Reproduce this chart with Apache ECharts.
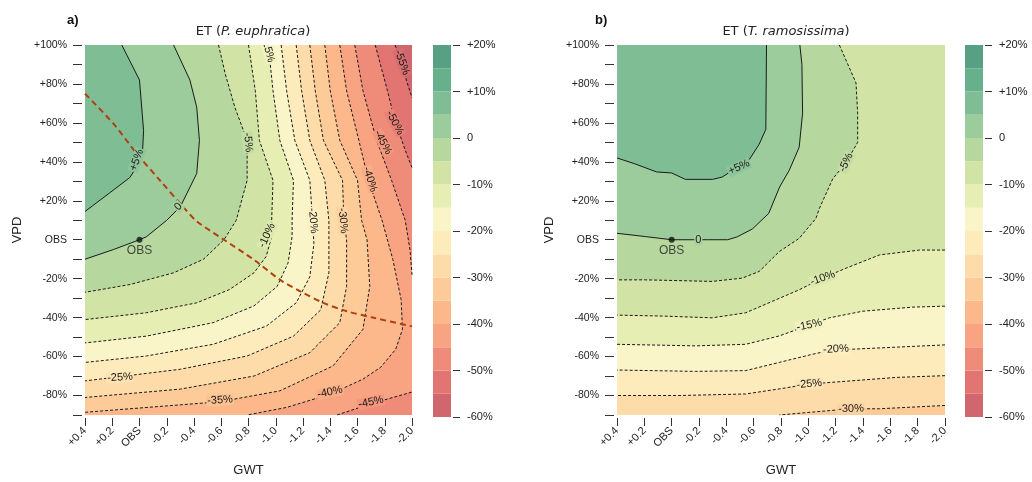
<!DOCTYPE html>
<html>
<head>
<meta charset="utf-8">
<script src="https://cdn.jsdelivr.net/npm/echarts@6/dist/echarts.min.js"></script>
<style>
  html, body { margin: 0; background: #fff; }
  #chart { width: 1032px; height: 482px; }
</style>
</head>
<body>
<div id="chart"></div>
<script>
// tick labels
const gwtTicks = ['+0.4', '+0.2', 'OBS', '-0.2', '-0.4', '-0.6', '-0.8', '-1.0', '-1.2', '-1.4', '-1.6', '-1.8', '-2.0']
const vpdTicks = ['-80%', '-60%', '-40%', '-20%', 'OBS', '+20%', '+40%', '+60%', '+80%', '+100%']
const cbarTicks = ['-60%', '-50%', '-40%', '-30%', '-20%', '-10%', '0', '+10%', '+20%']

// colour bands, 5% each, from -60% up to +20%
const bandLevels = [-60, -55, -50, -45, -40, -35, -30, -25, -20, -15, -10, -5, 0, 5, 10, 15]
const bandColors = ['#d0676f', '#e27572', '#ef8b79', '#f8a382', '#fcb88b', '#fdcb98', '#fddca9', '#feebbc',
  '#faf5c9', '#e7eeb3', '#d1e3a5', '#b6d79e', '#9ccb9c', '#7fbd95', '#67b08c', '#58a083']

// panel a) P. euphratica, contour lines as [GWT, VPD%]
const aP5 = [[0.13, 100], [0.0, 82], [-0.03, 56], [-0.02, 42], [0.07, 32], [0.22, 24], [0.4, 14.5]]
const a0 = [[-0.25, 100], [-0.37, 82], [-0.42, 68], [-0.44, 51], [-0.42, 34], [-0.3, 17], [-0.2, 10], [-0.05, 1.5], [0, 0], [0.19, -5], [0.4, -10]]
const aM5 = [[-0.58, 100], [-0.63, 85], [-0.7, 68], [-0.79, 51], [-0.79, 30.5], [-0.71, 10], [-0.62, 0], [-0.47, -10], [-0.25, -17], [0.07, -23], [0.4, -27]]
const aM10 = [[-0.8, 100], [-0.85, 76.5], [-0.88, 51], [-0.98, 30.5], [-0.97, 10], [-0.97, 1.6], [-0.93, -8.6], [-0.84, -17], [-0.66, -25.6], [-0.42, -32.4], [-0.05, -37.5], [0.4, -41]]
const aM15 = [[-0.945, 100], [-0.98, 76.5], [-1.03, 51], [-1.13, 30.5], [-1.12, 10], [-1.12, 1.6], [-1.09, -12], [-1.01, -24], [-0.84, -34], [-0.54, -42.6], [-0.05, -49.5], [0.4, -53]]
const aM20 = [[-1.04, 100], [-1.08, 76.5], [-1.14, 51], [-1.25, 30.5], [-1.27, 10], [-1.28, -2], [-1.25, -19], [-1.15, -32.4], [-0.93, -44.4], [-0.54, -53.7], [-0.05, -59.7], [0.4, -63]]
const aM25 = [[-1.15, 100], [-1.19, 76.5], [-1.25, 51], [-1.36, 30.5], [-1.39, 10], [-1.39, 1.6], [-1.39, -17], [-1.33, -36], [-1.13, -49.5], [-0.79, -59.7], [-0.3, -66.5], [0.4, -72.5]]
const aM30 = [[-1.25, 100], [-1.29, 76.5], [-1.35, 51], [-1.49, 30.5], [-1.5, 10], [-1.52, 0], [-1.52, -24], [-1.47, -42.6], [-1.25, -58], [-0.84, -70], [-0.3, -76.7], [0.4, -81]]
const aM35 = [[-1.36, 100], [-1.4, 76.5], [-1.47, 51], [-1.6, 30.5], [-1.63, 10], [-1.67, 0], [-1.69, -24], [-1.64, -46], [-1.42, -64.8], [-1.03, -77.6], [-0.59, -83.2], [0.4, -88.6]]
const aM40 = [[-1.47, 100], [-1.52, 76.5], [-1.61, 51], [-1.68, 30.5], [-1.78, 10], [-1.86, -10.3], [-1.92, -30.7], [-1.93, -46], [-1.88, -56.3], [-1.77, -65.5], [-1.64, -71.6], [-1.4, -79.3], [-1.08, -86.1], [-0.79, -90]]
const aM45top = [[-1.58, 100], [-1.64, 76.5], [-1.74, 51], [-1.85, 30.5], [-1.95, 10], [-1.985, -5], [-2.0, -18]]
const aM45bottom = [[-1.45, -90], [-1.69, -84.4], [-2.0, -78.2]]
const aM50 = [[-1.73, 100], [-1.82, 76.5], [-1.875, 61], [-1.95, 46], [-2.0, 37]]
const aM55 = [[-1.875, 100], [-1.92, 92], [-1.96, 81.6], [-2.0, 73]]
// dashed red curve in panel a
const aCurve = [[0.4, 75], [0.19, 59.5], [0.02, 44.2], [-0.15, 30.5], [-0.32, 16.9], [-0.42, 9.5], [-0.62, 0], [-0.84, -10.3],
  [-1.03, -20.5], [-1.18, -26.5], [-1.35, -32.4], [-1.52, -36.7], [-1.72, -40.1], [-2.0, -44.5]]
// contour labels [GWT, VPD, level]
const aLabels = [[0.02, 41, 5], [-0.285, 17, 0], [-0.796, 50, -5], [-0.943, 97.5, -15], [-1.273, 9.8, -20], [-1.493, 9.8, -30],
  [-0.936, 2.2, -10], [-1.927, 91, -55], [-1.875, 60, -50], [-1.787, 50, -45], [-1.692, 31, -40],
  [0.143, -70.7, -25], [-0.591, -82.4, -35], [-1.398, -78.3, -40], [-1.699, -83.4, -45]]
const aLabelAngles = [70, 45, -85, -75, -85, -85, 65, -70, -62, -62, -72, 4, 4, 12, 12]

// panel b) T. ramosissima
const bP5 = [[-0.694, 100], [-0.689, 56.7], [-0.64, 49], [-0.57, 41.4], [-0.37, 32.2], [-0.3, 31], [-0.1, 31], [0.0, 34.3], [0.11, 34.8], [0.27, 39], [0.4, 42]]
const b0 = [[-0.938, 100], [-0.953, 90], [-0.958, 65], [-0.933, 47.5], [-0.86, 35.6], [-0.79, 27.1], [-0.71, 13.5], [-0.59, 5.5], [-0.48, 1.5], [-0.41, 0], [-0.27, 0], [0, 0], [0.19, 1.6], [0.4, 3.3]]
const bM5 = [[-1.227, 100], [-1.349, 80.5], [-1.361, 65], [-1.361, 50], [-1.276, 39.7], [-1.178, 31.2], [-1.08, 15.9], [-1.055, 10.9], [-0.933, 0.7], [-0.787, -6.1], [-0.64, -16.3], [-0.517, -19.7], [-0.297, -21.4], [0.192, -20.6], [0.4, -20.6]]
const bM10 = [[-2.0, -5.3], [-1.814, -5.3], [-1.521, -7.8], [-1.276, -14.6], [-1.105, -19.7], [-0.933, -25.7], [-0.738, -31.6], [-0.542, -37.5], [-0.297, -40.1], [0.07, -39.2], [0.4, -38.7]]
const bM15 = [[-2.0, -34.1], [-1.765, -34.6], [-1.398, -36.7], [-1.154, -40.1], [-1.007, -43.8], [-0.787, -49.4], [-0.542, -53.7], [-0.175, -54.5], [0.4, -53.7]]
const bM20 = [[-2.0, -54], [-1.325, -56.2], [-1.202, -56.2], [-1.031, -58.8], [-0.787, -63], [-0.542, -67.2], [-0.175, -67.6], [0.4, -66.9]]
const bM25 = [[-2.0, -69.8], [-1.643, -70.7], [-1.007, -74.1], [-0.787, -76.6], [-0.542, -79.2], [-0.053, -80], [0.4, -80]]
const bM30 = [[-2.0, -85.1], [-1.521, -86.8], [-1.312, -86.8], [-1.031, -88.5], [-0.787, -90]]
const bLabels = [[-0.493, 37.2, 5], [-0.195, 0, 0], [-1.276, 39.7, -5], [-1.105, -19.7, -10], [-1.007, -43.8, -15],
  [-1.202, -56.2, -20], [-1.007, -74.1, -25], [-1.312, -86.8, -30]]
const bLabelAngles = [25, 0, 65, 20, 12, 3, 5, 2]

const obsPoint = [[0, 0]]

// plot corners
const TL = [0.4, 100], TR = [-2.0, 100], BL = [0.4, -90], BR = [-2.0, -90]
const FONT = '"Liberation Sans", Arial, sans-serif'

function col(level) { return bandColors[bandLevels.indexOf(level)] }
// label box colour: halfway between the two bands that meet at the line
function labelBg(level) { return echarts.color.lerp(0.5, [col(level), col(level - 5)]) }
function lvlText(l) { return l > 0 ? '+' + l + '%' : (l === 0 ? '0' : l + '%') }

// filled areas: painted from low to high, each polygon is the part above a level
const polysA = [
  { pts: [TL, TR, BR, BL], color: col(-60) },
  { pts: aM55.concat([BR, BL, TL]), color: col(-55) },
  { pts: aM50.concat([BR, BL, TL]), color: col(-50) },
  { pts: aM45top.concat(aM45bottom.slice().reverse(), [BL, TL]), color: col(-45) },
  { pts: aM40.concat([BL, TL]), color: col(-40) },
  { pts: aM35.concat([TL]), color: col(-35) },
  { pts: aM30.concat([TL]), color: col(-30) },
  { pts: aM25.concat([TL]), color: col(-25) },
  { pts: aM20.concat([TL]), color: col(-20) },
  { pts: aM15.concat([TL]), color: col(-15) },
  { pts: aM10.concat([TL]), color: col(-10) },
  { pts: aM5.concat([TL]), color: col(-5) },
  { pts: a0.concat([TL]), color: col(0) },
  { pts: aP5.concat([TL]), color: col(5) }
]
const polysB = [
  { pts: [TL, TR, BR, BL], color: col(-35) },
  { pts: bM30.concat([BL, TL, TR]), color: col(-30) },
  { pts: bM25.concat([TL, TR]), color: col(-25) },
  { pts: bM20.concat([TL, TR]), color: col(-20) },
  { pts: bM15.concat([TL, TR]), color: col(-15) },
  { pts: bM10.concat([TL, TR]), color: col(-10) },
  { pts: bM5.concat([TL]), color: col(-5) },
  { pts: b0.concat([TL]), color: col(0) },
  { pts: bP5.concat([TL]), color: col(5) }
]
const linesA = [[aP5, 5], [a0, 0], [aM5, -5], [aM10, -10], [aM15, -15], [aM20, -20], [aM25, -25], [aM30, -30],
  [aM35, -35], [aM40, -40], [aM45top, -45], [aM45bottom, -45], [aM50, -50], [aM55, -55]]
const linesB = [[bP5, 5], [b0, 0], [bM5, -5], [bM10, -10], [bM15, -15], [bM20, -20], [bM25, -25], [bM30, -30]]

function fillSeries(gi, polys) {
  return {
    type: 'custom', xAxisIndex: gi, yAxisIndex: gi, silent: true, z: 1,
    data: polys.map(p => p.pts[0]),
    renderItem: (params, api) => {
      const p = polys[params.dataIndex]
      return { type: 'polygon', shape: { points: p.pts.map(d => api.coord(d)) }, style: { fill: p.color } }
    }
  }
}
function lineSeries(gi, lines) {
  return lines.map(l => ({
    type: 'line', xAxisIndex: gi, yAxisIndex: gi, data: l[0], symbol: 'none', silent: true, z: 3,
    lineStyle: { color: '#1a1a1a', width: 1, type: l[1] < 0 ? [3, 2] : 'solid' }
  }))
}
function labelSeries(gi, labels, angles) {
  return {
    type: 'custom', xAxisIndex: gi, yAxisIndex: gi, silent: true, clip: true, z: 5,
    data: labels.map(l => [l[0], l[1]]),
    renderItem: (params, api) => {
      const l = labels[params.dataIndex]
      const p = api.coord([l[0], l[1]])
      return {
        type: 'text', x: p[0], y: p[1], rotation: angles[params.dataIndex] * Math.PI / 180,
        style: {
          text: lvlText(l[2]), fill: '#1a1a1a', font: '11px ' + FONT,
          align: 'center', verticalAlign: 'middle', backgroundColor: labelBg(l[2]), padding: [0, 1]
        }
      }
    }
  }
}
function obsSeries(gi) {
  return {
    type: 'scatter', xAxisIndex: gi, yAxisIndex: gi, data: obsPoint, symbolSize: 6, z: 6, silent: true,
    itemStyle: { color: '#111' },
    label: { show: true, position: 'bottom', distance: 2, formatter: 'OBS', fontSize: 12, color: '#222', fontFamily: FONT }
  }
}
function cbarSeries(gi) {
  return {
    type: 'custom', xAxisIndex: gi, yAxisIndex: gi, silent: true,
    data: bandLevels.map(l => [0, l]),
    renderItem: (params, api) => {
      const lo = bandLevels[params.dataIndex]
      const a = api.coord([0, lo + 5]), b = api.coord([1, lo])
      return { type: 'rect', shape: { x: a[0], y: a[1], width: b[0] - a[0], height: b[1] - a[1] }, style: { fill: bandColors[params.dataIndex] } }
    }
  }
}

function plotX(gi) {
  return {
    gridIndex: gi, type: 'value', min: -2.0, max: 0.4, interval: 0.2, inverse: true, offset: 3,
    axisLine: { show: false, onZero: false }, splitLine: { show: false },
    axisTick: { show: true, length: 8, lineStyle: { color: '#333' } },
    axisLabel: { rotate: 45, margin: 11, fontSize: 11, color: '#222', fontFamily: FONT,
      formatter: v => gwtTicks[Math.round((0.4 - v) / 0.2)] },
    name: 'GWT', nameLocation: 'middle', nameGap: 46,
    nameTextStyle: { fontSize: 13, color: '#222', fontFamily: FONT }
  }
}
function plotY(gi) {
  return {
    gridIndex: gi, type: 'value', min: -90, max: 100, interval: 10, offset: 3,
    axisLine: { show: false, onZero: false }, splitLine: { show: false },
    axisTick: { show: true, length: 9, lineStyle: { color: '#333' } },
    axisLabel: { margin: 15, fontSize: 10.5, color: '#222', fontFamily: FONT,
      formatter: v => (v % 20 === 0 ? vpdTicks[(v + 80) / 20] : '') },
    name: 'VPD', nameLocation: 'middle', nameGap: 58,
    nameTextStyle: { fontSize: 13, color: '#222', fontFamily: FONT }
  }
}
function cbarX(gi) { return { gridIndex: gi, type: 'value', min: 0, max: 1, show: false } }
function cbarY(gi) {
  return {
    gridIndex: gi, type: 'value', min: -60, max: 20, interval: 10, position: 'right', offset: 2,
    axisLine: { show: false, onZero: false }, splitLine: { show: false },
    axisTick: { show: true, length: 7, lineStyle: { color: '#333' } },
    axisLabel: { margin: 14, fontSize: 11, color: '#222', fontFamily: FONT,
      formatter: v => cbarTicks[(v + 60) / 10] }
  }
}
function titleOf(x, name) {
  const base = { fontSize: 13, color: '#222', fontWeight: 'normal', fontFamily: '"DejaVu Sans", sans-serif' }
  return {
    text: '{n|ET (}{i|' + name + '}{n|)}', left: x, top: 20, textAlign: 'center',
    textStyle: { fontWeight: 'normal', rich: { n: base, i: Object.assign({}, base, { fontStyle: 'italic' }) } }
  }
}

const myChart = echarts.init(document.getElementById('chart'))
const option = {
  animation: false,
  title: [
    titleOf(248, 'P. euphratica'),
    titleOf(781, 'T. ramosissima'),
    { text: 'a)', left: 62, top: 9, textStyle: { fontSize: 13, fontWeight: 'bold', color: '#111', fontFamily: FONT } },
    { text: 'b)', left: 590, top: 9, textStyle: { fontSize: 13, fontWeight: 'bold', color: '#111', fontFamily: FONT } }
  ],
  grid: [
    { left: 85, top: 45, width: 327, height: 372 },
    { left: 433, top: 45, width: 18, height: 372 },
    { left: 617, top: 45, width: 328, height: 372 },
    { left: 965, top: 45, width: 18, height: 372 }
  ],
  xAxis: [plotX(0), cbarX(1), plotX(2), cbarX(3)],
  yAxis: [plotY(0), cbarY(1), plotY(2), cbarY(3)],
  series: [
    fillSeries(0, polysA),
    ...lineSeries(0, linesA),
    {
      type: 'line', xAxisIndex: 0, yAxisIndex: 0, data: aCurve, symbol: 'none', silent: true, z: 4, smooth: 0.3,
      lineStyle: { color: '#b0400e', width: 2, type: [6, 4] }
    },
    labelSeries(0, aLabels, aLabelAngles),
    obsSeries(0),
    cbarSeries(1),
    fillSeries(2, polysB),
    ...lineSeries(2, linesB),
    labelSeries(2, bLabels, bLabelAngles),
    obsSeries(2),
    cbarSeries(3)
  ]
}
myChart.setOption(option)
</script>
</body>
</html>
